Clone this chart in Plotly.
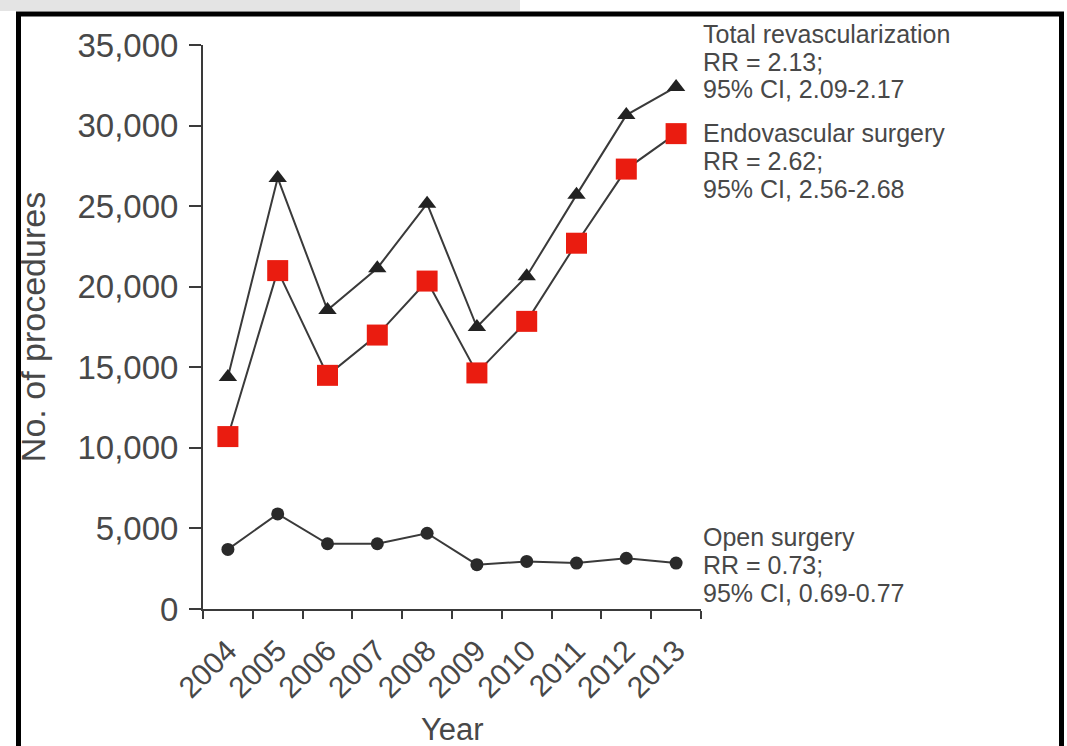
import plotly.graph_objects as go

# Annual procedure counts, 2004-2013
years = ["2004", "2005", "2006", "2007", "2008", "2009", "2010", "2011", "2012", "2013"]
total_revasc = [14400, 26750, 18550, 21150, 25150, 17500, 20650, 25700, 30650, 32400]
endovascular = [10700, 21000, 14500, 17000, 20350, 14650, 17850, 22700, 27300, 29500]
open_surgery = [3700, 5900, 4050, 4050, 4700, 2750, 2950, 2850, 3150, 2850]

y_ticks = [0, 5000, 10000, 15000, 20000, 25000, 30000, 35000]

W, H = 1067, 746
L, R, T, B = 203, 701, 45, 609  # plot area in pixels

def px(x):
    return (x - L) / (R - L)

def py(y):
    return (B - y) / (B - T)

LINE = "#3a3a3a"
TEXT = "#484848"
RED = "#ea1c10"
FONT = "Liberation Sans, Arial, sans-serif"

fig = go.Figure()

fig.add_trace(go.Scatter(
    x=years, y=total_revasc, mode="lines+markers", name="Total revascularization",
    line=dict(color=LINE, width=2),
    marker=dict(symbol="triangle-up", size=16, color="#222222"),
    cliponaxis=False,
))
fig.add_trace(go.Scatter(
    x=years, y=endovascular, mode="lines+markers", name="Endovascular surgery",
    line=dict(color=LINE, width=2),
    marker=dict(symbol="square", size=21, color=RED),
    cliponaxis=False,
))
fig.add_trace(go.Scatter(
    x=years, y=open_surgery, mode="lines+markers", name="Open surgery",
    line=dict(color=LINE, width=2),
    marker=dict(symbol="circle", size=13, color="#2a2a2a"),
    cliponaxis=False,
))

# Series labels with rate ratios
label_blocks = [
    (["Total revascularization", "RR = 2.13;", "95% CI, 2.09-2.17"], [34, 62, 89]),
    (["Endovascular surgery", "RR = 2.62;", "95% CI, 2.56-2.68"], [133, 161, 189]),
    (["Open surgery", "RR = 0.73;", "95% CI, 0.69-0.77"], [537, 565, 593]),
]
for lines, ys in label_blocks:
    for txt, yy in zip(lines, ys):
        fig.add_annotation(
            x=px(701), y=py(yy), xref="paper", yref="paper",
            xanchor="left", yanchor="middle", text=txt, showarrow=False,
            font=dict(family=FONT, size=25, color=TEXT),
        )

# x-axis title beneath the rotated year labels
fig.add_annotation(
    x=0.5, y=py(729), xref="paper", yref="paper",
    xanchor="center", yanchor="middle", text="Year", showarrow=False,
    font=dict(family=FONT, size=31, color=TEXT),
)

# Page background strip and black frame
fig.add_shape(type="rect", xref="paper", yref="paper",
              x0=px(0), x1=px(520), y0=py(0), y1=py(11),
              fillcolor="#e4e4e4", line=dict(width=0), layer="below")
fig.add_shape(type="rect", xref="paper", yref="paper",
              x0=px(18.5), x1=px(1061.5), y0=py(14), y1=py(800),
              line=dict(color="black", width=5), fillcolor="rgba(0,0,0,0)")

fig.update_layout(
    width=W, height=H,
    margin=dict(l=L, r=W - R, t=T, b=H - B, autoexpand=False),
    paper_bgcolor="white", plot_bgcolor="white",
    showlegend=False,
    font=dict(family=FONT, color=TEXT),
    xaxis=dict(
        type="category", range=[-0.5, 9.5], tickson="boundaries",
        ticks="outside", ticklen=8, tickwidth=2, tickcolor=LINE,
        showline=True, linecolor=LINE, linewidth=2,
        showgrid=False, zeroline=False, automargin=False,
        tickangle=-45, ticklabelstandoff=10,
        tickfont=dict(size=30, color=TEXT, family=FONT),
    ),
    yaxis=dict(
        range=[0, 35000], tickvals=y_ticks,
        ticktext=[f"{v:,}" for v in y_ticks],
        ticks="outside", ticklen=12, tickwidth=2, tickcolor=LINE,
        showline=True, linecolor=LINE, linewidth=2,
        showgrid=False, zeroline=False, automargin=True,
        ticklabelstandoff=4,
        tickfont=dict(size=33, color=TEXT, family=FONT),
        title=dict(text="No. of procedures", font=dict(size=34, color=TEXT, family=FONT), standoff=22),
    ),
)

fig.write_html("out.html")
